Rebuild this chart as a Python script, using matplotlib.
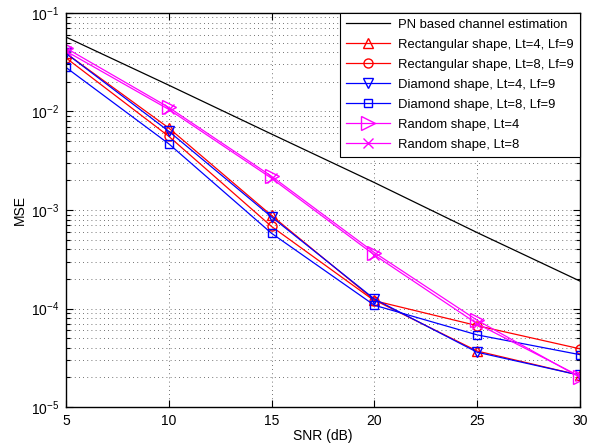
import matplotlib.pyplot as plt
from matplotlib.ticker import LogLocator, NullFormatter

snr = [5, 10, 15, 20, 25, 30]
mse_pn = [0.057, 0.0185, 0.0059, 0.0019, 5.9e-4, 1.9e-4]
mse_rect4 = [0.039, 0.0068, 0.00088, 0.000122, 3.7e-5, 2.1e-5]
mse_rect8 = [0.035, 0.0056, 0.00068, 0.00012, 6.7e-5, 3.9e-5]
mse_diam4 = [0.039, 0.0063, 0.00085, 0.000125, 3.6e-5, 2.1e-5]
mse_diam8 = [0.028, 0.0047, 0.00058, 0.000108, 5.4e-5, 3.4e-5]
mse_rand4 = [0.044, 0.011, 0.0022, 0.00037, 7.6e-5, 2.0e-5]
mse_rand8 = [0.041, 0.0105, 0.0021, 0.00035, 7.0e-5, 2.05e-5]

labels = ['PN based channel estimation',
          'Rectangular shape, Lt=4, Lf=9',
          'Rectangular shape, Lt=8, Lf=9',
          'Diamond shape, Lt=4, Lf=9',
          'Diamond shape, Lt=8, Lf=9',
          'Random shape, Lt=4',
          'Random shape, Lt=8']

plt.rcParams['font.family'] = ['Liberation Sans', 'DejaVu Sans']

fig = plt.figure(figsize=(6.06, 4.48), dpi=100)
ax = fig.add_axes([0.1089, 0.0915, 0.848, 0.8795])

red, blue, mag = '#ff0000', '#0000ff', '#ff00ff'
lw = 0.9
ax.semilogy(snr, mse_pn, color='k', lw=lw, label=labels[0])
ax.semilogy(snr, mse_rect4, color=red, lw=lw, marker='^', ms=6.5,
            mfc='none', label=labels[1])
ax.semilogy(snr, mse_rect8, color=red, lw=lw, marker='o', ms=6.5,
            mfc='none', label=labels[2])
ax.semilogy(snr, mse_diam4, color=blue, lw=lw, marker='v', ms=6.5,
            mfc='none', label=labels[3])
ax.semilogy(snr, mse_diam8, color=blue, lw=lw, marker='s', ms=6,
            mfc='none', label=labels[4])
ax.semilogy(snr, mse_rand4, color=mag, lw=lw, marker='>', ms=10.5,
            mfc='none', label=labels[5])
ax.semilogy(snr, mse_rand8, color=mag, lw=lw, marker='x', ms=6.5,
            label=labels[6])

ax.set_xlim(5, 30)
ax.set_ylim(1e-5, 1e-1)
ax.set_xticks(snr)
ax.yaxis.set_major_locator(LogLocator(base=10, numticks=10))
ax.yaxis.set_minor_locator(LogLocator(base=10, subs=range(2, 10), numticks=20))
ax.yaxis.set_minor_formatter(NullFormatter())

grid_style = dict(linestyle=(0, (1, 4)), color='#444444', lw=0.6)
ax.grid(True, which='major', axis='x', **grid_style)
ax.grid(True, which='both', axis='y', **grid_style)

ax.tick_params(which='both', direction='in', top=True, right=True,
               labelsize=10, width=0.8, pad=5)
ax.tick_params(which='major', length=5)
ax.tick_params(which='minor', length=3)
for s in ax.spines.values():
    s.set_linewidth(1.0)

ax.set_xlabel('SNR (dB)', fontsize=10, labelpad=1)
ax.set_ylabel('MSE', fontsize=10, labelpad=3)

leg = ax.legend(loc='upper right', fontsize=9.4, borderaxespad=0,
                fancybox=False, framealpha=1, edgecolor='k',
                handlelength=3.4, labelspacing=0.6, handletextpad=0.6,
                borderpad=0.45)
leg.get_frame().set_linewidth(0.8)

plt.savefig('out.png', dpi=100)
plt.close()
